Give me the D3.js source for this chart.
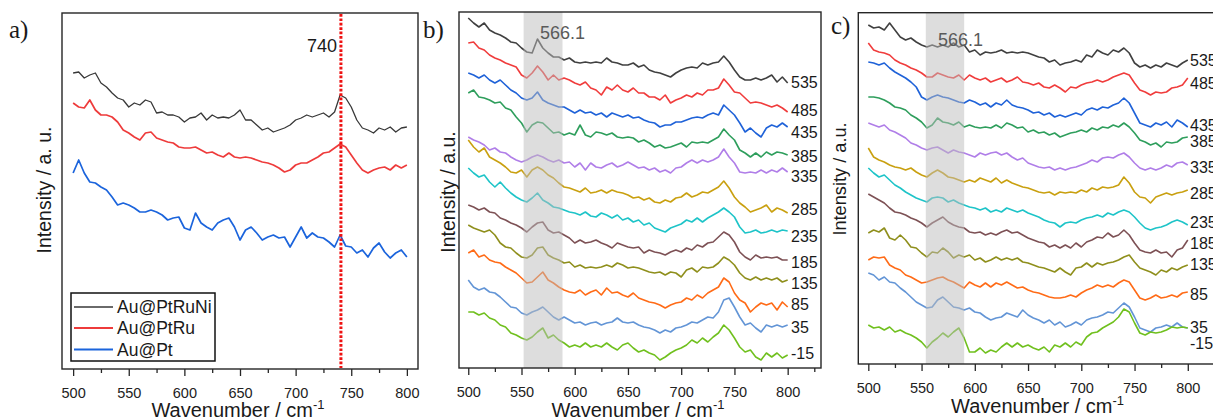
<!DOCTYPE html>
<html><head><meta charset="utf-8">
<script src="https://cdn.jsdelivr.net/npm/d3@7"></script>
<style>
body{margin:0;background:#fff;}
svg text{font-family:"Liberation Sans",Arial,sans-serif;fill:#1a1a1a;}
</style>
</head><body>
<svg id="chart" width="1213" height="420"></svg>
<script>
// ---------------- DATA ----------------
const wavenumbers = d3.range(500, 801, 5);   // x grid, cm^-1
const xTicksMajor = [500, 550, 600, 650, 700, 750, 800];
const xTicksMinor = [525, 575, 625, 675, 725, 775, 825];

// Panel a
const seriesNamesA = ["Au@PtRuNi", "Au@PtRu", "Au@Pt"];
const aPtRuNi = [327,328,322,325,327,317,313,307,302,300,293,297,295,300,298,287,288,285,285,283,278,282,283,287,280,285,282,283,282,285,290,280,280,275,270,272,268,270,272,275,280,282,285,283,285,287,283,288,305,302,293,280,272,270,267,272,270,273,268,272,273];
const aPtRu = [297,293,292,300,290,285,285,283,278,270,267,263,260,267,268,262,260,258,257,253,252,252,253,250,247,248,245,243,247,243,242,243,242,240,238,237,235,232,228,230,235,237,237,240,243,247,248,252,256,253,245,237,230,227,230,232,233,230,235,232,235];
const aPt = [227,240,227,218,217,213,210,203,195,197,195,192,188,188,190,188,185,180,182,183,172,170,187,177,173,170,177,180,182,173,160,170,173,167,160,163,165,162,163,153,163,173,162,167,163,162,158,153,165,154,153,147,150,143,152,157,148,142,147,150,143];
const markerA = 740;

// Panels b and c: potential labels (mV)
const potentialLabels = ["535","485","435","385","335","285","235","185","135","85","35","-15"];
const bandNote = "566.1";

const b535 = [382,377,373,377,370,367,365,362,358,357,352,348,347,361,352,347,343,343,340,342,338,337,338,337,338,337,342,338,337,335,335,337,333,335,330,328,327,325,323,327,330,332,333,332,337,335,337,338,344,338,330,323,320,320,322,320,322,325,318,323,317];
const b485 = [357,358,352,350,345,342,340,337,335,333,325,322,327,334,328,320,325,320,322,320,317,315,318,312,310,305,313,310,315,310,308,312,307,307,303,303,300,305,297,300,302,305,303,307,305,310,310,312,321,315,308,307,302,297,298,297,295,293,295,292,288];
const b435 = [327,325,322,325,320,317,320,315,310,307,302,300,302,308,300,297,295,293,293,290,287,290,287,288,285,287,283,287,285,283,285,282,283,280,278,277,273,275,275,278,278,280,282,283,282,285,287,285,295,290,285,277,268,272,267,263,272,275,273,277,273];
const b385 = [307,310,303,302,300,297,298,292,290,283,277,268,275,278,277,272,267,268,265,267,265,275,265,263,268,267,265,267,263,262,263,262,258,260,257,253,255,252,253,255,257,253,258,257,258,257,260,263,271,265,260,250,247,243,247,243,248,245,248,247,245];
const b335 = [263,260,258,255,250,252,248,247,243,240,238,240,243,245,243,240,238,240,237,238,233,237,230,237,233,232,235,237,233,235,238,235,232,233,230,232,228,230,227,232,233,237,240,237,240,238,240,243,251,243,237,228,227,228,227,230,227,230,228,232,228];
const b285 = [260,253,248,252,243,240,237,233,228,227,230,223,230,233,230,225,222,217,213,212,210,208,212,207,208,210,207,210,208,207,205,202,203,200,202,198,197,200,198,202,203,207,203,205,208,207,210,213,219,212,203,197,193,188,190,192,195,188,192,190,187];
const b235 = [232,227,223,225,218,213,218,212,207,203,200,198,202,207,200,197,193,192,190,188,187,185,188,184,183,187,185,182,185,180,182,178,180,175,177,172,170,168,172,174,176,180,178,182,178,182,185,188,192,188,183,173,167,168,170,167,168,170,168,170,169];
const b185 = [195,193,190,192,188,187,182,180,177,175,172,168,173,177,178,170,167,168,165,162,157,160,157,158,160,157,155,152,157,155,153,152,153,147,150,148,147,145,148,150,148,152,150,155,153,157,158,163,168,165,158,148,143,140,145,142,143,142,143,140,140];
const b135 = [175,172,170,168,170,165,157,153,152,147,143,142,145,152,153,145,142,140,137,138,133,135,132,133,132,133,135,133,137,135,132,133,132,130,128,127,128,125,128,127,123,130,132,128,133,132,133,137,143,140,135,127,122,120,123,120,122,120,122,118,120];
const b85 = [147,150,143,145,140,138,137,133,130,127,122,117,118,123,128,120,117,113,110,108,107,110,105,108,110,105,112,107,108,105,103,107,102,100,98,97,95,92,95,97,98,102,100,105,102,107,110,113,122,118,107,100,97,88,93,97,95,97,90,98,93];
const b35 = [120,113,110,112,108,107,103,98,93,92,87,85,88,90,93,88,83,80,83,80,77,78,75,77,78,75,77,78,82,78,77,78,75,73,72,70,67,70,68,72,73,75,78,77,80,83,82,88,100,102,93,83,75,77,72,68,75,73,75,73,75];
const bm15 = [88,88,85,87,82,80,75,73,67,65,62,60,63,68,72,62,65,60,57,53,55,53,57,53,55,53,57,53,50,55,57,52,48,50,47,45,40,43,47,50,52,55,60,57,62,58,63,67,75,70,62,53,48,50,43,40,47,43,47,42,45];

const c535 = [375,372,373,370,377,370,363,360,362,358,355,353,355,353,355,353,357,353,355,348,350,345,348,347,348,350,347,348,347,348,347,345,343,342,338,340,335,337,338,340,338,345,343,350,347,345,350,348,352,347,337,333,335,332,335,333,337,335,333,337,340];
const c485 = [357,350,348,347,345,340,337,335,332,330,327,323,323,327,325,323,322,325,320,325,322,320,322,318,320,322,318,320,323,318,317,315,317,313,312,315,312,308,313,312,315,317,318,320,318,320,323,325,327,325,317,310,308,305,308,307,308,312,313,315,322];
const c435 = [338,337,335,337,332,328,325,322,318,313,303,300,303,305,303,302,300,298,297,300,298,295,297,293,297,295,300,295,293,292,290,287,288,285,287,283,285,283,285,287,285,290,292,290,293,292,295,297,302,297,287,277,275,273,277,275,278,273,280,277,273];
const c385 = [303,303,302,300,297,293,292,290,285,282,278,272,275,282,278,277,275,278,273,275,273,272,273,272,275,272,277,275,272,273,268,270,267,268,265,267,263,265,267,268,270,268,272,270,273,272,275,273,277,273,267,260,258,255,257,253,258,257,258,262,263];
const c335 = [277,275,273,275,270,268,265,262,257,255,252,250,252,253,250,247,250,248,247,245,243,247,245,247,248,245,247,243,240,242,237,235,233,232,233,230,232,230,232,233,235,237,240,238,242,243,242,245,247,243,237,232,230,232,230,232,235,233,237,238,235];
const c285 = [252,243,240,238,235,233,232,230,232,228,225,223,227,230,227,223,222,220,218,220,218,222,220,218,222,217,220,217,215,213,212,210,208,207,208,205,208,207,208,207,210,208,212,210,213,212,213,215,223,217,208,203,202,197,203,205,207,205,207,208,210];
const c235 = [232,227,223,225,220,215,212,208,205,202,200,198,202,203,202,198,200,197,195,193,192,190,192,188,190,188,192,190,188,190,187,185,183,180,178,177,173,177,178,177,180,182,183,185,183,187,185,188,190,188,183,177,172,170,172,173,175,178,180,178,175];
const c185 = [206,203,200,197,192,188,187,185,182,180,177,173,177,180,183,178,175,173,172,168,167,168,165,167,165,168,170,167,168,165,162,160,158,157,153,155,152,155,152,157,153,158,160,163,162,167,163,165,170,165,157,150,148,147,150,147,148,143,150,152,160];
const c135 = [167,170,168,172,162,160,165,160,153,152,147,143,148,147,152,148,142,145,143,145,140,142,138,140,143,140,142,140,142,138,137,135,133,132,130,128,132,128,125,132,133,137,133,137,135,137,138,140,143,145,138,132,130,128,125,130,128,132,130,133,135];
const c85 = [140,143,142,143,135,132,130,125,123,120,117,118,120,122,123,120,118,115,112,118,115,113,117,113,117,115,118,115,112,113,110,108,107,105,103,102,102,103,105,103,107,110,112,115,113,115,113,117,120,118,110,102,100,102,105,102,103,105,103,107,108];
const c35 = [127,125,120,123,118,117,112,108,103,98,95,92,93,100,103,98,93,92,90,92,88,87,83,80,82,83,87,85,83,90,85,82,80,77,80,75,78,73,75,78,75,80,82,83,85,88,87,92,97,93,83,72,70,68,72,73,75,73,77,73,72];
const cm15 = [75,72,73,70,73,68,70,67,65,62,58,52,58,62,67,63,68,72,62,48,48,52,47,50,48,53,57,53,57,53,55,52,50,53,48,55,53,57,53,58,55,63,67,68,72,75,78,83,91,88,77,67,65,68,67,68,70,73,72,73,72];

const bandRange = [552, 588.5];

// ---------------- STYLE / LAYOUT ----------------
const colorsA = ["#383838", "#ee3b3b", "#1b64dc"];
const widthsA = [1.3, 1.7, 1.7];
const colorsBC = ["#404040","#f03c3c","#1f62d8","#2e9e5c","#b07ee8","#c9a010","#1ec4c8","#7d5155","#8f8f1c","#ff6b17","#6395d6","#70c01e"];

const svg = d3.select("#chart");
const y = d3.scaleLinear().domain([0, 400]).range([400, 0]);

function drawPanel(cfg) {
  const x = d3.scaleLinear().domain(cfg.domain).range([cfg.left, cfg.right]);
  const g = svg.append("g");
  const line = d3.line().x((d, i) => x(wavenumbers[i])).y(d => y(d));

  cfg.series.forEach((s, i) => {
    g.append("path").attr("d", line(s)).attr("fill", "none")
      .attr("stroke", cfg.colors[i]).attr("stroke-width", cfg.widths ? cfg.widths[i] : 1.6)
      .attr("stroke-linejoin", "round");
  });

  if (cfg.band) {
    g.append("rect").attr("x", x(cfg.band[0])).attr("y", cfg.top)
      .attr("width", x(cfg.band[1]) - x(cfg.band[0])).attr("height", cfg.bottom - cfg.top)
      .attr("fill", "#bcbcbc").attr("opacity", 0.5);
  }

  g.append("rect").attr("x", cfg.left).attr("y", cfg.top)
    .attr("width", cfg.right - cfg.left).attr("height", cfg.bottom - cfg.top)
    .attr("fill", "none").attr("stroke", "#262626").attr("stroke-width", 1.4);

  const gA = g.append("g").attr("transform", `translate(0,${cfg.bottom})`)
    .call(d3.axisBottom(x).tickValues(xTicksMajor).tickSize(7).tickPadding(12));
  gA.attr("font-size", null).attr("font-family", null);
  gA.select(".domain").remove();
  gA.selectAll("line").attr("stroke", "#262626").attr("stroke-width", 1.3);
  gA.selectAll("text").attr("font-size", "14.5px").style("fill", "#222");

  const minors = xTicksMinor.filter(v => v > cfg.domain[0] && v < cfg.domain[1]);
  const gM = g.append("g").attr("transform", `translate(0,${cfg.bottom})`)
    .call(d3.axisBottom(x).tickValues(minors).tickSize(4).tickFormat(""));
  gM.select(".domain").remove();
  gM.selectAll("line").attr("stroke", "#262626").attr("stroke-width", 1.3);

  // x title
  const t = g.append("text").attr("x", (cfg.left + cfg.right) / 2 - 2).attr("y", cfg.xTitleY)
    .attr("text-anchor", "middle").attr("font-size", "20px");
  t.append("tspan").text("Wavenumber / cm");
  t.append("tspan").attr("font-size", "13px").attr("dy", -8).text("-1");

  // y title
  g.append("text").attr("transform", `translate(${cfg.yTitleX},${cfg.yTitleY}) rotate(-90)`)
    .attr("text-anchor", "middle").attr("font-size", cfg.yTitleSize).text(cfg.yTitle);

  // panel letter
  g.append("text").attr("x", cfg.letterX).attr("y", cfg.letterY)
    .style("font-family", "'Liberation Serif','Times New Roman',serif")
    .attr("font-size", "25px").text(cfg.letter);

  return { g, x };
}

// Panel a
const pa = drawPanel({
  domain: [490, 810], left: 62, right: 418, top: 13, bottom: 369,
  series: [aPtRuNi, aPtRu, aPt], colors: colorsA, widths: widthsA,
  xTitleY: 417, yTitle: "Intensity / a. u.", yTitleX: 51, yTitleY: 190, yTitleSize: "19.5px",
  letter: "a)", letterX: 9, letterY: 38
});
pa.g.append("line").attr("x1", pa.x(markerA) + 0.8).attr("x2", pa.x(markerA) + 0.8)
  .attr("y1", 14).attr("y2", 368).attr("stroke", "#ee1111").attr("stroke-width", 3)
  .attr("stroke-dasharray", "2.7,1.7");
pa.g.append("text").attr("x", pa.x(markerA) - 3).attr("y", 52).attr("text-anchor", "end")
  .attr("font-size", "18px").text(String(markerA));
// legend
const leg = pa.g.append("g");
leg.append("rect").attr("x", 71).attr("y", 293).attr("width", 144).attr("height", 68)
  .attr("fill", "#fff").attr("stroke", "#111").attr("stroke-width", 1.5);
const legY = [307, 328, 349.5];
seriesNamesA.forEach((n, i) => {
  leg.append("line").attr("x1", 74).attr("x2", 113).attr("y1", legY[i]).attr("y2", legY[i])
    .attr("stroke", colorsA[i]).attr("stroke-width", widthsA[i] + 0.2);
  leg.append("text").attr("x", 117).attr("y", legY[i] + 6).attr("font-size", "17.5px").text(n);
});

// Panel b
const pb = drawPanel({
  domain: [491.3, 831.3], left: 459, right: 821, top: 12, bottom: 368,
  series: [b535,b485,b435,b385,b335,b285,b235,b185,b135,b85,b35,bm15], colors: colorsBC,
  band: bandRange,
  xTitleY: 417, yTitle: "Intensity / a.u.", yTitleX: 455, yTitleY: 192, yTitleSize: "19.5px",
  letter: "b)", letterX: 423, letterY: 38
});
const labelYb = [82,110,132,156,176,209,236,262,283,304,327,353];
potentialLabels.forEach((l, i) => {
  pb.g.append("text").attr("x", 791).attr("y", labelYb[i] + 5.7).attr("font-size", "16px").text(l);
});
pb.g.append("text").attr("x", 540).attr("y", 39).attr("font-size", "18px")
  .style("fill", "#5a5a5a").text(bandNote);

// Panel c
const pc = drawPanel({
  domain: [490.6, 831], left: 858.3, right: 1220.8, top: 12.7, bottom: 364,
  series: [c535,c485,c435,c385,c335,c285,c235,c185,c135,c85,c35,cm15], colors: colorsBC,
  band: [554, 590],
  xTitleY: 413, yTitle: "Intensity / a.u.", yTitleX: 846, yTitleY: 179, yTitleSize: "18.2px",
  letter: "c)", letterX: 831, letterY: 34
});
const labelYc = [60,83,125,141,167,193,222,243,264,294,327,343];
potentialLabels.forEach((l, i) => {
  pc.g.append("text").attr("x", 1190).attr("y", labelYc[i] + 5.7).attr("font-size", "16px").text(l);
});
pc.g.append("text").attr("x", 938).attr("y", 46).attr("font-size", "18px")
  .style("fill", "#5a5a5a").text(bandNote);
</script>
</body></html>
